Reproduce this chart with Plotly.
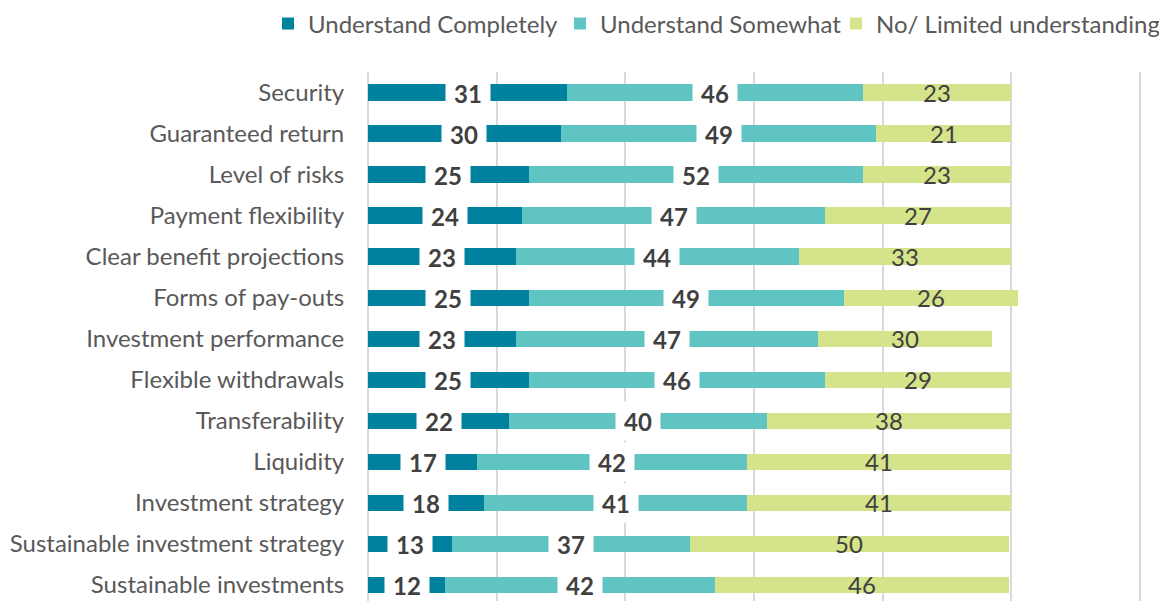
import plotly.graph_objects as go

categories = [
    "Security", "Guaranteed return", "Level of risks", "Payment flexibility",
    "Clear benefit projections", "Forms of pay-outs", "Investment performance",
    "Flexible withdrawals", "Transferability", "Liquidity", "Investment strategy",
    "Sustainable investment strategy", "Sustainable investments",
]
understand_completely = [31, 30, 25, 24, 23, 25, 23, 25, 22, 17, 18, 13, 12]
understand_somewhat = [46, 49, 52, 47, 44, 49, 47, 46, 40, 42, 41, 37, 42]
limited_understanding = [23, 21, 23, 29, 33, 27, 27, 29, 38, 41, 41, 49.7, 45.7]
limited_labels = [23, 21, 23, 27, 33, 26, 30, 29, 38, 41, 41, 50, 46]

series_names = ["Understand Completely", "Understand Somewhat", "No/ Limited understanding"]
colors = ["#00829F", "#60C5C2", "#D5E38B"]
legend_widths = [247, 231, 300]

FONT = "Lato"
TEXT_COLOR = "#595959"
LABEL_COLOR = "#404040"

fig = go.Figure()
for name, vals, col, lw in zip(series_names,
                               [understand_completely, understand_somewhat, limited_understanding],
                               colors, legend_widths):
    fig.add_trace(go.Bar(
        y=categories, x=vals, name=name, orientation="h",
        marker=dict(color=col, line=dict(width=0)),
        legendwidth=lw,
        hoverinfo="x+y",
    ))

annotations = []
for i, cat in enumerate(categories):
    a = understand_completely[i]
    b = understand_somewhat[i]
    c = limited_understanding[i]
    for center, val in [(a / 2, a), (a + b / 2, b)]:
        annotations.append(dict(
            x=center, y=cat, xref="x", yref="y", text=f"{val:.0f}",
            showarrow=False, xanchor="center", yanchor="middle",
            width=44, height=38, bgcolor="white", borderpad=0,
            font=dict(family=FONT, size=24, color=LABEL_COLOR, weight="bold"),
        ))
    annotations.append(dict(
        x=a + b + c / 2, y=cat, xref="x", yref="y", text=str(limited_labels[i]),
        showarrow=False, xanchor="center", yanchor="middle",
        font=dict(family=FONT, size=24, color=LABEL_COLOR),
    ))

fig.update_layout(
    barmode="stack",
    bargap=0.6,
    width=1159, height=601,
    margin=dict(l=368, r=16, t=72, b=0, autoexpand=False),
    paper_bgcolor="white", plot_bgcolor="white",
    font=dict(family=FONT, size=24, color=TEXT_COLOR),
    annotations=annotations,
    legend=dict(
        orientation="h",
        x=(268 - 368) / 775, xanchor="left",
        y=1 + (72 - 24) / 529, yanchor="middle",
        entrywidthmode="pixels",
        font=dict(family=FONT, size=24, color=TEXT_COLOR),
        traceorder="normal", itemclick=False, bgcolor="rgba(0,0,0,0)",
    ),
    xaxis=dict(
        range=[0, 120.5], dtick=20, showticklabels=False,
        showgrid=True, gridcolor="#D9D9D9", gridwidth=1.5,
        zeroline=True, zerolinecolor="#D9D9D9", zerolinewidth=1.5,
        showline=False, fixedrange=True,
    ),
    yaxis=dict(
        type="category", categoryorder="array", categoryarray=categories,
        range=[12.39, -0.5], showgrid=False, zeroline=False, showline=False,
        ticks="outside", ticklen=18, tickcolor="rgba(0,0,0,0)",
        tickfont=dict(family=FONT, size=24, color=TEXT_COLOR),
        automargin=False, fixedrange=True,
    ),
)

fig.write_html("out.html", config={"displayModeBar": False},
               post_script="document.body.style.margin='0px';")
